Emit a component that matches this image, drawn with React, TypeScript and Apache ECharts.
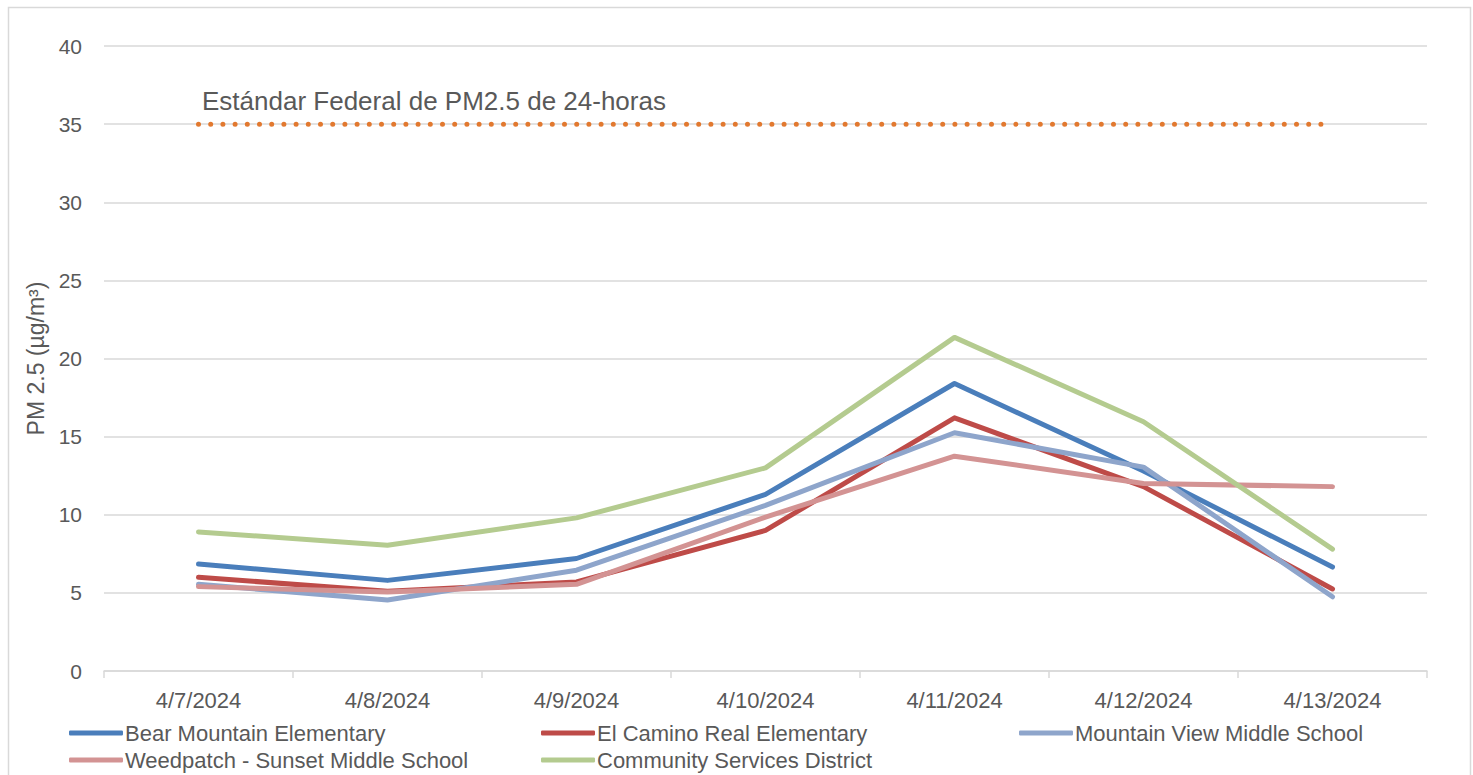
import React, { useEffect, useRef } from "react";
import * as echarts from "echarts";

const categories = ["4/7/2024", "4/8/2024", "4/9/2024", "4/10/2024", "4/11/2024", "4/12/2024", "4/13/2024"];
const bearMountain = [6.85, 5.8, 7.2, 11.3, 18.4, 12.8, 6.65];
const elCamino = [6.0, 5.1, 5.7, 9.0, 16.2, 11.8, 5.25];
const mountainView = [5.55, 4.55, 6.45, 10.6, 15.25, 13.05, 4.75];
const weedpatch = [5.4, 5.05, 5.55, 9.85, 13.75, 12.0, 11.8];
const community = [8.9, 8.05, 9.8, 13.0, 21.35, 15.95, 7.8];
const federalStandard = [35, 35, 35, 35, 35, 35, 35];
const yTicks = { min: 0, max: 40, interval: 5 };

const FONT = "'Liberation Sans', Arial, sans-serif";
const TXT = "#595959";

export default function App() {
  const ref = useRef<HTMLDivElement>(null);
  useEffect(() => {
    const chart = echarts.init(ref.current!, null, { renderer: "svg" });
    const mk = (name: string, data: number[], color: string) => ({
      name,
      type: "line",
      data,
      showSymbol: false,
      symbol: "none",
      lineStyle: { width: 5, color, cap: "round", join: "round" },
      itemStyle: { color },
    });
    const lg = (name: string, left: number, top: number) => ({
      orient: "horizontal",
      icon: "roundRect",
      itemWidth: 54,
      itemHeight: 5,
      padding: 0,
      left,
      top,
      data: [name],
      textStyle: { color: TXT, fontSize: 22, fontFamily: FONT, padding: [0, 0, 0, -3] },
    });
    chart.setOption({
      animation: false,
      grid: { left: 104, right: 46, top: 46, bottom: 104 },
      xAxis: {
        type: "category",
        data: categories,
        boundaryGap: true,
        axisLine: { lineStyle: { color: "#d9d9d9", width: 1.5 } },
        axisTick: { show: true, length: 7, lineStyle: { color: "#d9d9d9", width: 1.5 } },
        axisLabel: { color: TXT, fontSize: 22, fontFamily: FONT, margin: 18 },
      },
      yAxis: {
        type: "value",
        min: yTicks.min,
        max: yTicks.max,
        interval: yTicks.interval,
        name: "PM 2.5 (µg/m³)",
        nameLocation: "middle",
        nameGap: 56,
        nameTextStyle: { color: TXT, fontSize: 23, fontFamily: FONT },
        axisLine: { show: false },
        axisTick: { show: false },
        axisLabel: { color: TXT, fontSize: 21, fontFamily: FONT, margin: 22 },
        splitLine: { lineStyle: { color: "#d9d9d9", width: 1.5 } },
      },
      legend: [
        lg("Bear Mountain Elementary", 69, 722),
        lg("El Camino Real Elementary", 541, 722),
        lg("Mountain View Middle School", 1019, 722),
        lg("Weedpatch - Sunset Middle School", 69, 749),
        lg("Community Services District", 541, 749),
      ],
      graphic: [
        {
          type: "rect",
          left: 6,
          top: 5,
          shape: { width: 1462, height: 780 },
          style: { fill: "none", stroke: "#d9d9d9", lineWidth: 1.5 },
          silent: true,
        },
        {
          type: "text",
          left: 202,
          top: 88,
          style: { text: "Estándar Federal de PM2.5 de 24-horas", fill: TXT, fontSize: 26, fontFamily: FONT },
        },
      ],
      series: [
        mk("Bear Mountain Elementary", bearMountain, "#4a7ebb"),
        mk("El Camino Real Elementary", elCamino, "#be4b48"),
        mk("Mountain View Middle School", mountainView, "#8ea5cb"),
        mk("Weedpatch - Sunset Middle School", weedpatch, "#d39393"),
        mk("Community Services District", community, "#b4cb8f"),
        {
          name: "Estándar Federal",
          type: "line",
          data: federalStandard,
          showSymbol: false,
          symbol: "none",
          lineStyle: { width: 5, color: "#e2792f", type: [0, 12.2], cap: "round" },
          z: 1,
        },
      ],
    });
    return () => chart.dispose();
  }, []);
  return (
    <div
      ref={ref}
      style={{ position: "absolute", left: 0, top: 0, width: 1473, height: 775, background: "#fff" }}
    />
  );
}
